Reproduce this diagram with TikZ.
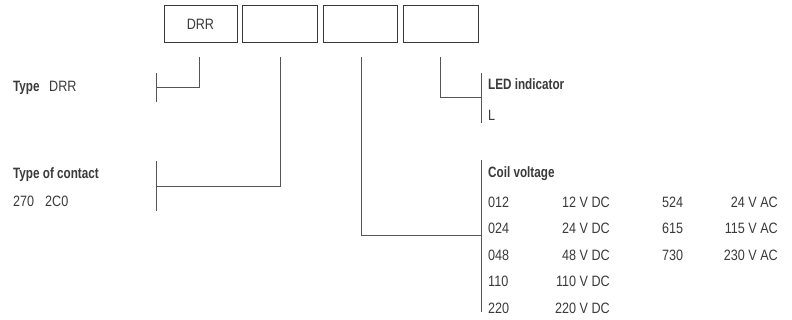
\documentclass[tikz,border=0pt]{standalone}
\usepackage{fontspec}
\setmainfont[FakeStretch=0.84,BoldFeatures={FakeStretch=0.78}]{Liberation Sans}
\definecolor{txt}{HTML}{3A3A3A}
\definecolor{ln}{HTML}{555555}
\begin{document}
\begin{tikzpicture}[x=1pt,y=-1pt,
  codebox/.style={draw=txt,line width=0.9pt,minimum width=73pt,minimum height=37pt,inner sep=0pt,anchor=north west,font=\fontsize{15}{18}\selectfont,text=txt},
  conn/.style={draw=ln,line width=0.8pt},
  lbl/.style={anchor=base west,inner sep=0pt,text=txt,font=\fontsize{15}{18}\selectfont},
  hd/.style={lbl,font=\fontsize{15}{18}\selectfont\bfseries},
  rlbl/.style={anchor=base east,inner sep=0pt,text=txt,font=\fontsize{15}{18}\selectfont}]
\useasboundingbox (0,0) rectangle (792,320);
% boxes
\node[codebox] (b1) at (163.5,5) {DRR};
\node[codebox,minimum width=75pt] (b2) at (242,5) {};
\node[codebox,minimum width=74pt] (b3) at (323,5) {};
\node[codebox,minimum width=75pt] (b4) at (403,5) {};
% connector start points
\coordinate (s1) at (199,57);
\coordinate (s2) at (280,57);
\coordinate (s3) at (361,57);
\coordinate (s4) at (440,57);
% brackets
\coordinate (k1t) at (156,73);   \coordinate (k1b) at (156,102);
\coordinate (k2t) at (156,161);  \coordinate (k2b) at (156,211);
\coordinate (k3t) at (481.7,160); \coordinate (k3b) at (481.7,312);
\coordinate (k4t) at (481.7,73); \coordinate (k4b) at (481.7,123);
\draw[conn] (k1t) -- (k1b);
\draw[conn] (k2t) -- (k2b);
\draw[conn] (k3t) -- (k3b);
\draw[conn] (k4t) -- (k4b);
% connectors
\draw[conn] (s1) |- (156,87);
\draw[conn] (s2) |- (156,186);
\draw[conn] (s3) |- (481.7,235.7);
\draw[conn] (s4) |- (481.7,97.7);
% left labels
\node[hd] (t1) at (13,92) {Type};
\node[lbl] (t1v) at (49,92) {DRR};
\node[hd] (t2) at (13,178.5) {Type of contact};
\node[lbl] (t2a) at (13,207) {270};
\node[lbl] (t2b) at (45,207) {2C0};
% LED
\node[hd] (t4) at (488,90) {LED indicator};
\node[lbl] (t4v) at (488,121) {L};
% coil voltage
\node[hd] (t3) at (488,177.5) {Coil voltage};
\node[lbl] (c1) at (488,207.5) {012};
\node[rlbl] (v1) at (610,207.5) {12 V DC};
\node[lbl] (c2) at (488,234) {024};
\node[rlbl] (v2) at (610,234) {24 V DC};
\node[lbl] (c3) at (488,260.5) {048};
\node[rlbl] (v3) at (610,260.5) {48 V DC};
\node[lbl] (c4) at (488,287) {110};
\node[rlbl] (v4) at (610,287) {110 V DC};
\node[lbl] (c5) at (488,313.5) {220};
\node[rlbl] (v5) at (610,313.5) {220 V DC};
\node[lbl] (c6) at (662,207.5) {524};
\node[rlbl] (v6) at (778,207.5) {24 V AC};
\node[lbl] (c7) at (662,234) {615};
\node[rlbl] (v7) at (778,234) {115 V AC};
\node[lbl] (c8) at (662,260.5) {730};
\node[rlbl] (v8) at (778,260.5) {230 V AC};
\end{tikzpicture}
\end{document}
